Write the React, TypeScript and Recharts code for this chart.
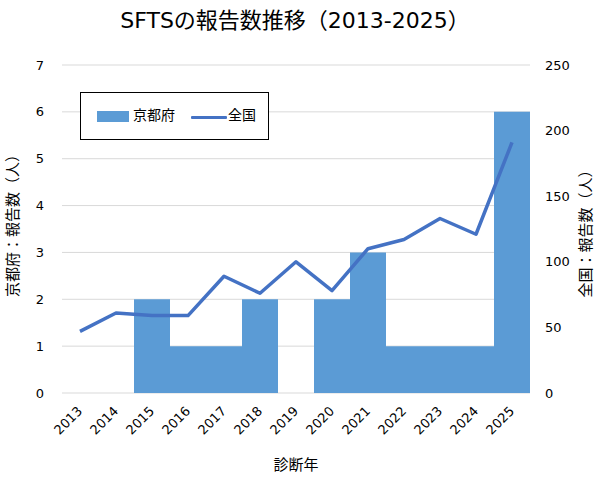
import React from 'react';
import { ComposedChart, Bar, Line, XAxis, YAxis, CartesianGrid } from 'recharts';

const years = ['2013', '2014', '2015', '2016', '2017', '2018', '2019', '2020', '2021', '2022', '2023', '2024', '2025'];
const kyoto = [0, 0, 2, 1, 1, 2, 0, 2, 3, 1, 1, 1, 6];
const national = [47, 61, 59, 59, 89, 76, 100, 78, 110, 117, 133, 121, 191];
const leftTicks = [0, 1, 2, 3, 4, 5, 6, 7];
const rightTicks = [0, 50, 100, 150, 200, 250];
const seriesNames = ['京都府', '全国'];

const data = years.map((y, i) => ({ year: y, kyoto: kyoto[i], national: national[i] }));

const FONT = '"DejaVu Sans", "Noto Sans CJK JP", sans-serif';
const BAR_COLOR = '#5b9bd5';
const LINE_COLOR = '#4472c4';

const XTick = (props: any) => {
  const { x, y, payload } = props;
  return (
    <g transform={`translate(${x + 3},${y + 11})`}>
      <text textAnchor="end" transform="rotate(-45)" fontSize={13} fill="#000" fontFamily={FONT}>
        {payload.value}
      </text>
    </g>
  );
};

const LegendBox = () => (
  <div
    style={{
      position: 'absolute',
      left: 80,
      top: 92,
      width: 187,
      height: 46,
      border: '1px solid #000',
      background: '#fff',
      fontFamily: FONT,
      fontSize: 14,
      color: '#000',
    }}
  >
    <div style={{ position: 'absolute', left: 16, top: 18, width: 32, height: 11, background: BAR_COLOR }} />
    <span style={{ position: 'absolute', left: 52, top: 12, lineHeight: '20px' }}>{seriesNames[0]}</span>
    <div style={{ position: 'absolute', left: 110, top: 23, width: 36, height: 3, background: LINE_COLOR, borderRadius: 1 }} />
    <span style={{ position: 'absolute', left: 147, top: 12, lineHeight: '20px' }}>{seriesNames[1]}</span>
  </div>
);

export default function App() {
  return (
    <div style={{ position: 'absolute', left: 0, top: 0, width: 607, height: 478, background: '#fff' }}>
      <ComposedChart
        width={607}
        height={478}
        data={data}
        margin={{ top: 65, right: 0, bottom: 0, left: 0 }}
        barCategoryGap={0}
        barGap={0}
      >
        <CartesianGrid vertical={false} stroke="#d9d9d9" yAxisId="left" />
        <XAxis
          dataKey="year"
          height={85}
          axisLine={false}
          tickLine={false}
          tick={<XTick />}
          interval={0}
        />
        <YAxis
          yAxisId="left"
          orientation="left"
          width={62}
          domain={[0, 7]}
          ticks={leftTicks}
          axisLine={false}
          tickLine={false}
          tick={{ fontSize: 13, fill: '#000', fontFamily: FONT }}
          tickMargin={12}
        />
        <YAxis
          yAxisId="right"
          orientation="right"
          width={77}
          domain={[0, 250]}
          ticks={rightTicks}
          axisLine={false}
          tickLine={false}
          tick={{ fontSize: 13, fill: '#000', fontFamily: FONT }}
          tickMargin={9}
        />
        <Bar yAxisId="left" dataKey="kyoto" name={seriesNames[0]} fill={BAR_COLOR} isAnimationActive={false} />
        <Line
          yAxisId="right"
          dataKey="national"
          name={seriesNames[1]}
          type="linear"
          stroke={LINE_COLOR}
          strokeWidth={3.5}
          strokeLinejoin="round"
          dot={false}
          activeDot={false}
          isAnimationActive={false}
        />
      </ComposedChart>
      <LegendBox />
      <svg
        width={607}
        height={478}
        style={{ position: 'absolute', left: 0, top: 0, pointerEvents: 'none' }}
      >
        <text x={295} y={28} textAnchor="middle" fontSize={22} fill="#000" fontFamily={FONT}>
          SFTSの報告数推移（2013-2025）
        </text>
        <text
          x={0}
          y={0}
          transform="translate(18,222) rotate(-90)"
          textAnchor="middle"
          fontSize={15}
          fill="#000"
          fontFamily={FONT}
        >
          京都府：報告数（人）
        </text>
        <text
          x={0}
          y={0}
          transform="translate(591,230) rotate(-90)"
          textAnchor="middle"
          fontSize={15}
          fill="#000"
          fontFamily={FONT}
        >
          全国：報告数（人）
        </text>
        <text x={296} y={470} textAnchor="middle" fontSize={15} fill="#000" fontFamily={FONT}>
          診断年
        </text>
      </svg>
    </div>
  );
}
